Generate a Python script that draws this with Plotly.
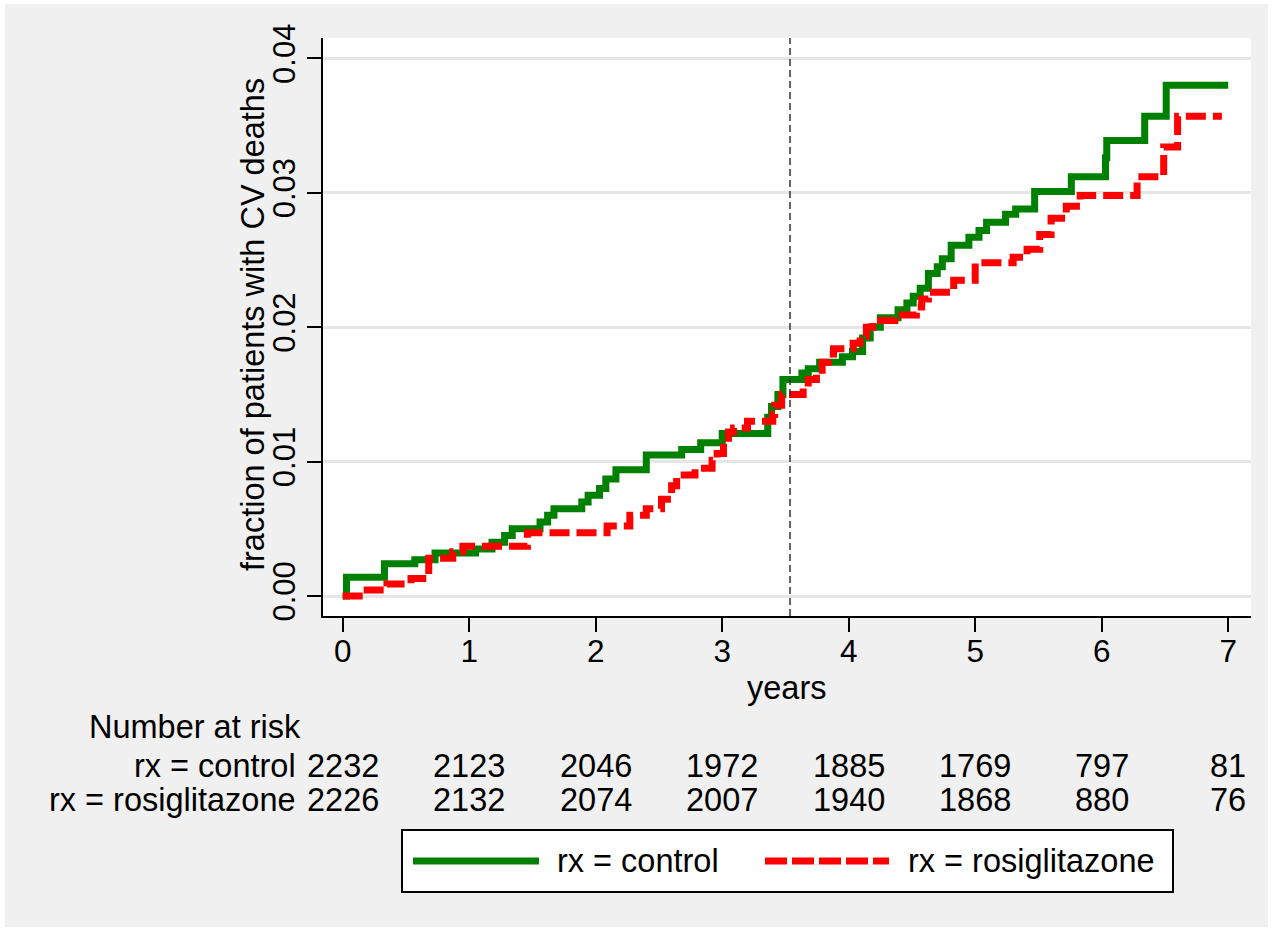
import plotly.graph_objects as go

# ---------------- data ----------------
ctrl_t = [0, 0.03, 0.33, 0.57, 0.73, 1.05, 1.18, 1.28, 1.34, 1.56, 1.62, 1.67, 1.89, 1.94,
          2.03, 2.08, 2.16, 2.40, 2.68, 2.83, 3.00, 3.36, 3.39, 3.44, 3.48, 3.63, 3.68, 3.77,
          3.95, 4.03, 4.11, 4.17, 4.25, 4.39, 4.46, 4.51, 4.565, 4.63, 4.70, 4.74, 4.81, 4.95,
          5.03, 5.09, 5.24, 5.32, 5.47, 5.76, 6.03, 6.04, 6.34, 6.51, 7.0]
ctrl_y = [0, 0.0014, 0.0024, 0.0027, 0.0032, 0.0035, 0.0040, 0.0045, 0.0050, 0.0055, 0.0060, 0.0065, 0.0070, 0.0075,
          0.0080, 0.0087, 0.0094, 0.0105, 0.0109, 0.0114, 0.0121, 0.0133, 0.0141, 0.0150, 0.0161, 0.0166, 0.0169, 0.0174,
          0.0178, 0.0182, 0.0192, 0.0200, 0.0207, 0.0213, 0.0218, 0.0223, 0.0229, 0.0240, 0.0245, 0.0251, 0.0261, 0.0267,
          0.0272, 0.0278, 0.0284, 0.0288, 0.0301, 0.0312, 0.0326, 0.0339, 0.0357, 0.0380, 0.0380]

rosi_t = [0, 0.16, 0.35, 0.54, 0.68, 0.87, 0.95, 1.46, 2.09, 2.27, 2.40, 2.52, 2.60, 2.64, 2.785,
          2.92, 2.96, 3.01, 3.05, 3.09, 3.20, 3.40, 3.415, 3.47, 3.64, 3.68, 3.745, 3.79, 3.84, 3.88,
          4.035, 4.09, 4.14, 4.19, 4.365, 4.535, 4.577, 4.63, 4.83, 5.00, 5.30, 5.41, 5.51, 5.60,
          5.72, 5.83, 6.28, 6.49, 6.60, 6.95]
rosi_y = [0, 0.00045, 0.0009, 0.0013, 0.0028, 0.0033, 0.0037, 0.0047, 0.0052, 0.0060, 0.0065, 0.0072, 0.0082, 0.0090, 0.0095,
          0.0101, 0.0106, 0.0114, 0.0122, 0.0125, 0.0130, 0.0135, 0.0142, 0.0150, 0.0155, 0.0161, 0.0168, 0.0174, 0.0180, 0.0184,
          0.0188, 0.0193, 0.0200, 0.0205, 0.0209, 0.0215, 0.0221, 0.0226, 0.0235, 0.0248, 0.0252, 0.0258, 0.0269, 0.0281,
          0.0290, 0.0298, 0.0312, 0.0334, 0.0357, 0.0357]

ytick_vals = [0, 0.01, 0.02, 0.03, 0.04]
ytick_text = ["0.00", "0.01", "0.02", "0.03", "0.04"]
xtick_vals = [0, 1, 2, 3, 4, 5, 6, 7]

risk_years = [0, 1, 2, 3, 4, 5, 6, 7]
risk_control = [2232, 2123, 2046, 1972, 1885, 1769, 797, 81]
risk_rosi = [2226, 2132, 2074, 2007, 1940, 1868, 880, 76]

series_names = ["rx = control", "rx = rosiglitazone"]
median_line_x = 3.536

# ---------------- figure ----------------
W, H = 1274, 932
L, R, T, B = 323, 1251, 38, 616
FONT = "Liberation Sans, Arial, sans-serif"
GREEN = "#008000"
RED = "#ff0000"
BG = "#f0f0f0"


def px2paper_x(px):
    return (px - L) / (R - L)


def px2paper_y(py):
    return (B - py) / (B - T)


fig = go.Figure()
fig.add_trace(go.Scatter(x=ctrl_t, y=ctrl_y, mode="lines", line_shape="hv",
                         line=dict(color=GREEN, width=7), name=series_names[0],
                         showlegend=False))
fig.add_trace(go.Scatter(x=rosi_t, y=rosi_y, mode="lines", line_shape="hv",
                         line=dict(color=RED, width=7, dash="20px,7px"), name=series_names[1],
                         showlegend=False))

shapes = []
# white outer frame
for (x0, y0, x1, y1) in [(0, 0, W, 4), (0, 0, 5, H), (W - 6, 0, W, H), (0, H - 5, W, H)]:
    shapes.append(dict(type="rect", xref="paper", yref="paper",
                       x0=px2paper_x(x0), x1=px2paper_x(x1), y0=px2paper_y(y1), y1=px2paper_y(y0),
                       fillcolor="white", line=dict(width=0), layer="above"))
# vertical dashed line
shapes.append(dict(type="line", xref="x", yref="paper", x0=median_line_x, x1=median_line_x,
                   y0=0, y1=1, line=dict(color="#333333", width=1.5, dash="7px,4px")))
# legend box
shapes.append(dict(type="rect", xref="paper", yref="paper",
                   x0=px2paper_x(402), x1=px2paper_x(1173), y0=px2paper_y(892), y1=px2paper_y(830),
                   fillcolor="white", line=dict(color="black", width=2)))
shapes.append(dict(type="line", xref="paper", yref="paper",
                   x0=px2paper_x(413), x1=px2paper_x(539), y0=px2paper_y(861), y1=px2paper_y(861),
                   line=dict(color=GREEN, width=7)))
shapes.append(dict(type="line", xref="paper", yref="paper",
                   x0=px2paper_x(765), x1=px2paper_x(889), y0=px2paper_y(861), y1=px2paper_y(861),
                   line=dict(color=RED, width=7, dash="22px,5px")))

annotations = []
tf = dict(family=FONT, size=32.5, color="black")
annotations.append(dict(text="fraction of patients with CV deaths", textangle=-90,
                        xref="paper", yref="paper", x=px2paper_x(253), y=px2paper_y(325),
                        xanchor="center", yanchor="middle", showarrow=False, font=tf))
annotations.append(dict(text="years", xref="paper", yref="paper", x=px2paper_x(786), y=px2paper_y(688),
                        xanchor="center", yanchor="middle", showarrow=False, font=tf))
annotations.append(dict(text="Number at risk", xref="paper", yref="paper", x=px2paper_x(87), y=px2paper_y(727),
                        xanchor="left", yanchor="middle", showarrow=False, font=tf))
for name, row, py in [(series_names[0], risk_control, 766), (series_names[1], risk_rosi, 800)]:
    annotations.append(dict(text=name, xref="paper", yref="paper", x=px2paper_x(298), y=px2paper_y(py),
                            xanchor="right", yanchor="middle", showarrow=False, font=tf))
    for yr, n in zip(risk_years, row):
        annotations.append(dict(text=str(n), xref="x", yref="paper", x=yr, y=px2paper_y(py),
                                xanchor="center", yanchor="middle", showarrow=False, font=tf))
annotations.append(dict(text=series_names[0], xref="paper", yref="paper", x=px2paper_x(555), y=px2paper_y(861),
                        xanchor="left", yanchor="middle", showarrow=False, font=tf))
annotations.append(dict(text=series_names[1], xref="paper", yref="paper", x=px2paper_x(906), y=px2paper_y(861),
                        xanchor="left", yanchor="middle", showarrow=False, font=tf))

x_per_px = 1.0 / 126.5
y_per_px = 0.01 / 134.4
fig.update_layout(
    width=W, height=H,
    margin=dict(l=L, r=W - R, t=T, b=H - B, pad=0),
    paper_bgcolor=BG, plot_bgcolor="white",
    font=dict(family=FONT, size=31, color="black"),
    showlegend=False,
    shapes=shapes, annotations=annotations,
    xaxis=dict(range=[0 - (342.7 - L) * x_per_px, 0 + (R - 342.7) * x_per_px],
               tickvals=xtick_vals, ticks="outside", ticklen=14, tickwidth=2, tickcolor="black",
               showline=True, linecolor="black", linewidth=2, showgrid=False, zeroline=False,
               tickfont=dict(size=31.5), mirror=False, ticklabelstandoff=-8),
    yaxis=dict(range=[0 - (B - 596) * y_per_px, 0 + (596 - T) * y_per_px],
               tickvals=ytick_vals, ticktext=ytick_text, tickangle=-90,
               ticks="outside", ticklen=14, tickwidth=2, tickcolor="black",
               showline=True, linecolor="black", linewidth=2, showgrid=True,
               gridcolor="#e6e6e6", gridwidth=3, zeroline=False, tickfont=dict(size=31)),
)

fig.write_html("out.html", config={"displayModeBar": False},
               post_script="document.body.style.margin='0';document.body.style.padding='0';")
